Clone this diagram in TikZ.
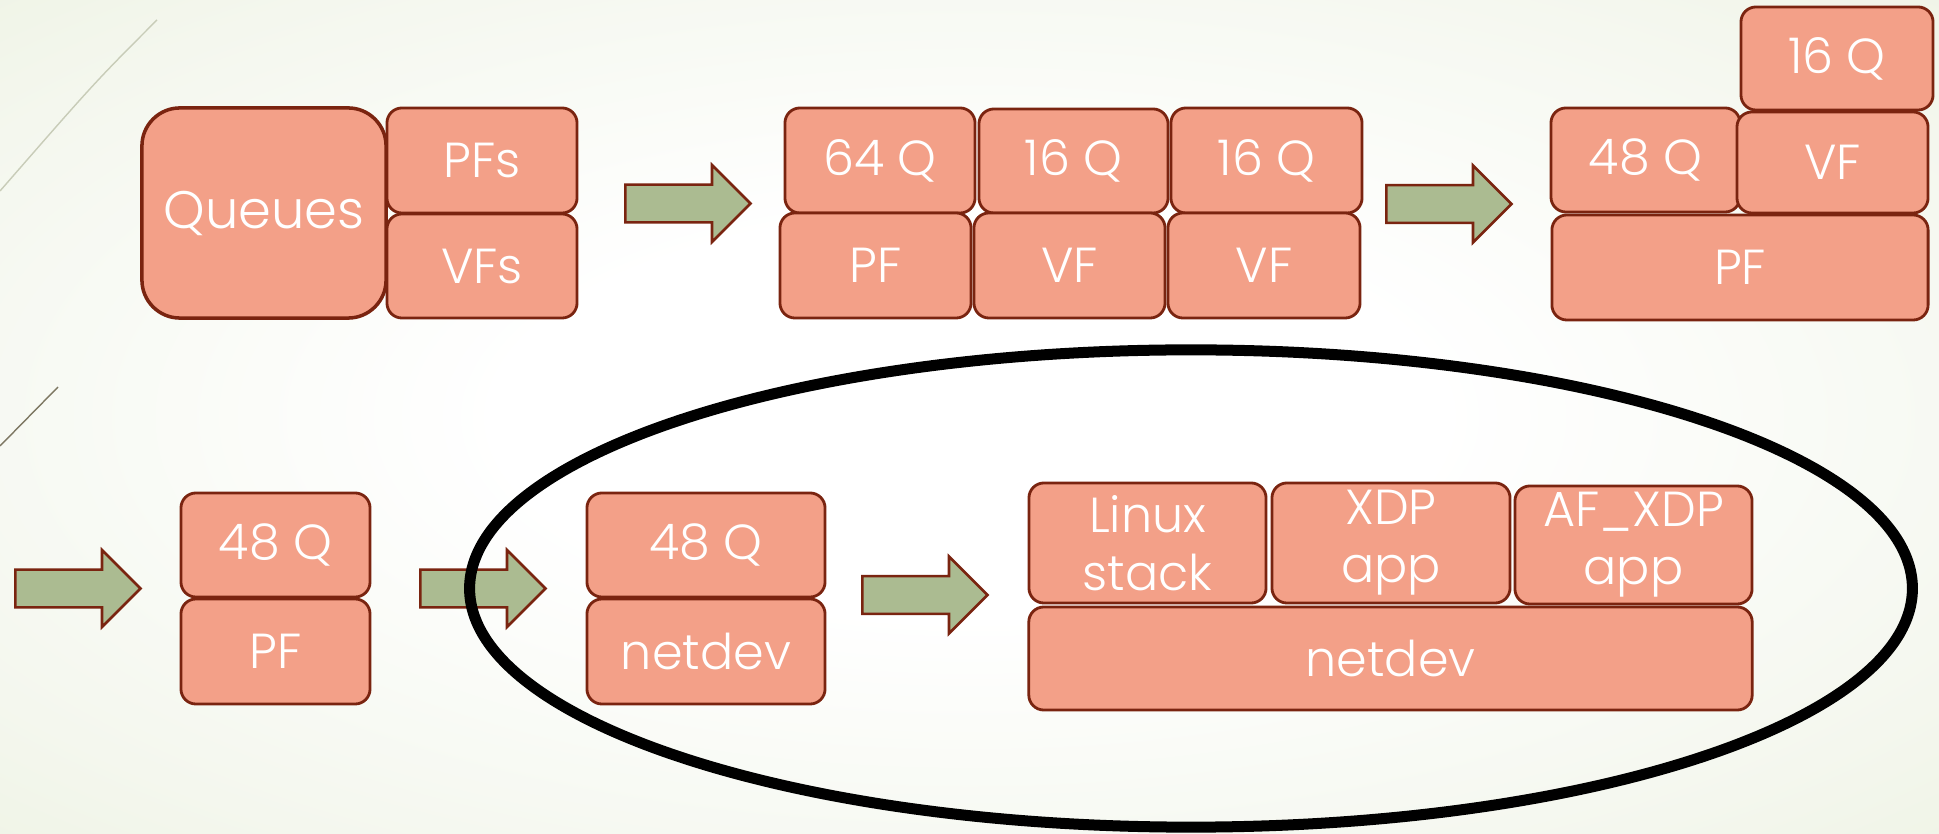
\documentclass[tikz,border=0pt]{standalone}
\usepackage{fontspec}
\setmainfont{Poppins}[UprightFont=* Light]
\usetikzlibrary{
    shapes.geometric,
    shapes.arrows,
    positioning
}

\definecolor{cellfill}{RGB}{243,160,136}
\definecolor{celledge}{RGB}{122,36,16}
\definecolor{flowfill}{RGB}{171,187,145}
\definecolor{bgmid}{RGB}{244,247,238}
\definecolor{bgouter}{RGB}{226,234,206}
\definecolor{bgedge}{RGB}{220,230,196}

% slide background: white in the middle, pale green towards the edges
\pgfdeclareradialshading{slidebg}{\pgfpoint{0bp}{0bp}}{%
    color(0bp)=(white); color(12bp)=(white); color(30bp)=(bgmid);
    color(56bp)=(bgouter); color(75bp)=(bgedge)}

\begin{document}
\begin{tikzpicture}[
    x=0.01cm, y=-0.01cm,
    cell/.style={rectangle, rounded corners=0.15cm, draw=celledge, line width=0.8pt,
        fill=cellfill, text=white, inner sep=0pt, align=center,
        font=\fontsize{14}{16.5}\selectfont},
    flow/.style={single arrow, draw=celledge, line width=0.75pt, fill=flowfill,
        inner sep=0.175cm, minimum width=0.74cm, minimum height=1.25cm,
        single arrow head extend=0.195cm, anchor=tail},
    ring/.style={ellipse, draw=black, line width=0.11cm, inner sep=0pt}
]

    % Background
    \useasboundingbox (0,0) rectangle (1939,834);
    \shade[shading=slidebg] (0,0) rectangle (1939,834);
    \draw[line width=0.4pt, draw={rgb,255:red,200;green,204;blue,184}]
        (157,20) .. controls (95,82) .. (0,191);
    \draw[line width=0.4pt, draw={rgb,255:red,125;green,119;blue,98}]
        (58,387) -- (0,446);

    % Queues split into PFs and VFs
    \node (queues) [cell, rounded corners=0.38cm, line width=1pt,
        minimum width=2.44cm, minimum height=2.10cm, font=\fontsize{15}{18}\selectfont]
        at (264,213) {Queues};
    \node (pfs) [cell, minimum width=1.90cm, minimum height=1.05cm] at (482,160.5) {PFs};
    \node (vfs) [cell, minimum width=1.90cm, minimum height=1.04cm] at (482,266) {VFs};

    % One PF and two VFs
    \node (q64) [cell, minimum width=1.90cm, minimum height=1.05cm] at (880,160.5) {64 Q};
    \node (q16a) [cell, minimum width=1.89cm, minimum height=1.04cm] at (1073.5,161) {16 Q};
    \node (q16b) [cell, minimum width=1.91cm, minimum height=1.05cm] at (1266.5,160.5) {16 Q};
    \node (pfa) [cell, minimum width=1.91cm, minimum height=1.05cm] at (875.5,265.5) {PF};
    \node (vfa) [cell, minimum width=1.91cm, minimum height=1.05cm] at (1069.5,265.5) {VF};
    \node (vfb) [cell, minimum width=1.92cm, minimum height=1.05cm] at (1264,265.5) {VF};

    % VF stacked on the PF
    \node (q16c) [cell, minimum width=1.92cm, minimum height=1.03cm] at (1837,58.5) {16 Q};
    \node (q48a) [cell, minimum width=1.89cm, minimum height=1.04cm] at (1645.5,160) {48 Q};
    \node (vfc) [cell, minimum width=1.91cm, minimum height=1.01cm] at (1832.5,162.5) {VF};
    \node (pfb) [cell, minimum width=3.76cm, minimum height=1.05cm] at (1740,267.5) {PF};

    % PF alone
    \node (q48b) [cell, minimum width=1.89cm, minimum height=1.04cm] at (275.5,545) {48 Q};
    \node (pfc) [cell, minimum width=1.89cm, minimum height=1.05cm] at (275.5,651.5) {PF};

    % netdev
    \node (q48c) [cell, minimum width=2.38cm, minimum height=1.04cm] at (706,545) {48 Q};
    \node (nda) [cell, minimum width=2.38cm, minimum height=1.05cm] at (706,651.5) {netdev};

    % Consumers on top of the netdev
    \node (linux) [cell, minimum width=2.37cm, minimum height=1.20cm] at (1147.5,543) {Linux\\stack};
    \node (xdp) [cell, minimum width=2.38cm, minimum height=1.20cm] at (1391,543) {XDP\\app};
    \node (afxdp) [cell, minimum width=2.37cm, minimum height=1.18cm] at (1633.5,545) {AF\_XDP\\app};
    \node (ndb) [cell, minimum width=7.23cm, minimum height=1.03cm] at (1390.5,658.5) {netdev};

    % Steps
    \node (step1) [flow] at (624,203.5) {};
    \node (step2) [flow] at (1385,204) {};
    \node (step3) [flow] at (14,588.5) {};
    \node (step4) [flow] at (419,588.5) {};
    \node (step5) [flow] at (861,595) {};

    % Outline round the netdev part
    \node (scope) [ring, minimum width=14.42cm, minimum height=4.77cm] at (1191,588.5) {};

\end{tikzpicture}
\end{document}
